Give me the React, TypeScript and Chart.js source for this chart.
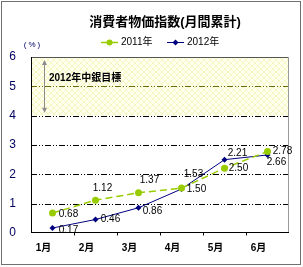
import React, { useEffect, useRef } from 'react';
import { Chart, registerables } from 'chart.js';

Chart.register(...registerables);

const categories = ['1月', '2月', '3月', '4月', '5月', '6月'];
const series2011 = [0.68, 1.12, 1.37, 1.53, 2.21, 2.78];
const series2012 = [0.17, 0.46, 0.86, 1.5, 2.5, 2.66];
const labels2011 = ['0.68', '1.12', '1.37', '1.53', '2.50', '2.78'];
const labels2012 = ['0.17', '0.46', '0.86', '1.50', '2.21', '2.66'];
const seriesNames = ['2011年', '2012年'];
const yMin = 0;
const yMax = 6;
const targetBand = [4, 6];
const targetLine = 5;
const titleText = '消費者物価指数(月間累計)';
const bandLabel = '2012年中銀目標';
const unitLabel = '(%)';

const FONT = "'Liberation Sans', 'Noto Sans CJK JP', sans-serif";
const GREEN = '#99CC00';
const NAVY = '#000080';

// label offsets (style only)
const off2011 = [[16, 1], [7, -12], [11, -13], [12, -14], [14, 0], [15, 0]];
const off2012 = [[16, 2], [15, 0], [14, 3], [15, 0], [13, -6], [9, 7]];

function makePattern(): CanvasPattern | string {
  const c = document.createElement('canvas');
  c.width = 6;
  c.height = 6;
  const g = c.getContext('2d');
  if (!g) return '#FFFFE8';
  g.fillStyle = '#FFFFEE';
  g.fillRect(0, 0, 6, 6);
  g.strokeStyle = '#F6F6C4';
  g.lineWidth = 1;
  g.beginPath();
  g.moveTo(0, 0);
  g.lineTo(6, 6);
  g.moveTo(6, 0);
  g.lineTo(0, 6);
  g.stroke();
  const p = g.createPattern(c, 'repeat');
  return p || '#FFFFE8';
}

export default function App() {
  const ref = useRef<HTMLCanvasElement | null>(null);

  useEffect(() => {
    if (!ref.current) return;
    const pattern = makePattern();

    const decor = {
      id: 'decor',
      beforeDatasetsDraw(chart: any) {
        const { ctx, chartArea, scales } = chart;
        const { left, right, top, bottom } = chartArea;
        const y = scales.y;
        ctx.save();
        // band
        const yb = y.getPixelForValue(targetBand[0]);
        const yt = y.getPixelForValue(targetBand[1]);
        ctx.fillStyle = pattern;
        ctx.fillRect(left, yt, right - left, yb - yt);
        // grid lines
        ctx.lineWidth = 1;
        for (let v = 1; v <= 5; v++) {
          const py = Math.round(y.getPixelForValue(v)) + 0.5;
          ctx.strokeStyle = v === targetLine ? '#6B6B10' : '#000000';
          ctx.setLineDash([6, 2, 1, 2, 1, 2]);
          ctx.beginPath();
          ctx.moveTo(left, py);
          ctx.lineTo(right, py);
          ctx.stroke();
        }
        ctx.setLineDash([]);
        // top border
        ctx.strokeStyle = '#555555';
        ctx.beginPath();
        ctx.moveTo(left, Math.round(top) + 0.5);
        ctx.lineTo(right, Math.round(top) + 0.5);
        ctx.stroke();
        // right border
        ctx.strokeStyle = '#999999';
        ctx.beginPath();
        ctx.moveTo(Math.round(right) - 0.5, top);
        ctx.lineTo(Math.round(right) - 0.5, bottom);
        ctx.stroke();
        // left axis
        ctx.strokeStyle = '#000000';
        ctx.beginPath();
        ctx.moveTo(Math.round(left) + 0.5, top);
        ctx.lineTo(Math.round(left) + 0.5, bottom);
        ctx.stroke();
        // bottom axis with ticks at category boundaries
        const by = Math.round(bottom) - 0.5;
        ctx.beginPath();
        ctx.moveTo(left, by);
        ctx.lineTo(right, by);
        const step = (right - left) / categories.length;
        for (let i = 1; i < categories.length; i++) {
          const px = Math.round(left + step * i) + 0.5;
          ctx.moveTo(px, by);
          ctx.lineTo(px, by + 3);
        }
        ctx.stroke();
        // double arrow
        const ax = left + 13.5;
        const a1 = yt + 3;
        const a2 = yb - 3;
        ctx.strokeStyle = '#8C8C8C';
        ctx.fillStyle = '#8C8C8C';
        ctx.lineWidth = 1;
        ctx.beginPath();
        ctx.moveTo(ax, a1 + 3);
        ctx.lineTo(ax, a2 - 3);
        ctx.stroke();
        ctx.beginPath();
        ctx.moveTo(ax, a1);
        ctx.lineTo(ax - 2.5, a1 + 5);
        ctx.lineTo(ax + 2.5, a1 + 5);
        ctx.closePath();
        ctx.fill();
        ctx.beginPath();
        ctx.moveTo(ax, a2);
        ctx.lineTo(ax - 2.5, a2 - 5);
        ctx.lineTo(ax + 2.5, a2 - 5);
        ctx.closePath();
        ctx.fill();
        // band label
        ctx.fillStyle = '#000000';
        ctx.font = `bold 10px ${FONT}`;
        ctx.textAlign = 'left';
        ctx.textBaseline = 'middle';
        ctx.fillText(bandLabel, left + 18, y.getPixelForValue(5.3) + 0.5);
        ctx.restore();
      },
      afterDatasetsDraw(chart: any) {
        const { ctx } = chart;
        ctx.save();
        ctx.font = `10px ${FONT}`;
        ctx.fillStyle = '#000000';
        ctx.textAlign = 'center';
        ctx.textBaseline = 'middle';
        const m0 = chart.getDatasetMeta(0);
        const m1 = chart.getDatasetMeta(1);
        labels2011.forEach((t, i) => {
          const p = m0.data[i];
          ctx.fillText(t, p.x + off2011[i][0], p.y + off2011[i][1]);
        });
        labels2012.forEach((t, i) => {
          const p = m1.data[i];
          ctx.fillText(t, p.x + off2012[i][0], p.y + off2012[i][1]);
        });
        ctx.restore();
      },
      afterDraw(chart: any) {
        const { ctx } = chart;
        ctx.save();
        // title
        ctx.fillStyle = '#000000';
        ctx.font = `bold 13px ${FONT}`;
        ctx.textAlign = 'center';
        ctx.textBaseline = 'middle';
        ctx.fillText(titleText, 165, 22);
        // legend
        const ly = 42.5;
        ctx.font = `10px ${FONT}`;
        ctx.textAlign = 'left';
        // 2011
        ctx.strokeStyle = GREEN;
        ctx.lineWidth = 1.5;
        ctx.beginPath();
        ctx.moveTo(101, ly);
        ctx.lineTo(118, ly);
        ctx.stroke();
        ctx.fillStyle = GREEN;
        ctx.beginPath();
        ctx.arc(109.5, ly, 3, 0, Math.PI * 2);
        ctx.fill();
        ctx.fillStyle = '#000000';
        ctx.fillText(seriesNames[0], 121, ly);
        // 2012
        ctx.strokeStyle = NAVY;
        ctx.lineWidth = 1;
        ctx.beginPath();
        ctx.moveTo(167, ly);
        ctx.lineTo(184, ly);
        ctx.stroke();
        ctx.fillStyle = NAVY;
        ctx.beginPath();
        ctx.moveTo(175.5, ly - 3);
        ctx.lineTo(178.5, ly);
        ctx.lineTo(175.5, ly + 3);
        ctx.lineTo(172.5, ly);
        ctx.closePath();
        ctx.fill();
        ctx.fillStyle = '#000000';
        ctx.fillText(seriesNames[1], 187, ly);
        // unit label
        ctx.fillStyle = '#000060';
        ctx.font = `8px ${FONT}`;
        ctx.textAlign = 'center';
        (ctx as any).letterSpacing = '2px';
        ctx.fillText(unitLabel, 33, 45);
        (ctx as any).letterSpacing = '0px';
        // outer border
        ctx.strokeStyle = '#707070';
        ctx.lineWidth = 1;
        ctx.strokeRect(1.5, 1.5, 299, 263);
        ctx.restore();
      },
    };

    const chart = new Chart(ref.current, {
      type: 'line',
      data: {
        labels: categories,
        datasets: [
          {
            label: seriesNames[0],
            data: series2011,
            borderColor: GREEN,
            backgroundColor: GREEN,
            borderWidth: 1.5,
            borderDash: [7, 4],
            pointStyle: 'circle',
            pointRadius: 3.5,
            pointBorderWidth: 0,
            fill: false,
            tension: 0,
          },
          {
            label: seriesNames[1],
            data: series2012,
            borderColor: NAVY,
            backgroundColor: NAVY,
            borderWidth: 1,
            pointStyle: 'rectRot',
            pointRadius: 3,
            pointBorderWidth: 0,
            fill: false,
            tension: 0,
          },
        ],
      },
      options: {
        responsive: false,
        animation: false,
        devicePixelRatio: 1,
        layout: { padding: { left: 0, right: 14, top: 57, bottom: 0 } },
        plugins: {
          legend: { display: false },
          title: { display: false },
          tooltip: { enabled: false },
        },
        scales: {
          x: {
            type: 'category',
            offset: true,
            grid: { display: false, drawTicks: false },
            border: { display: false },
            ticks: {
              color: '#000000',
              font: { family: FONT, size: 10, weight: 'bold' },
              padding: 9,
              labelOffset: -9,
              maxRotation: 0,
              autoSkip: false,
            },
            afterFit: (s: any) => {
              s.height = 34;
            },
          },
          y: {
            min: yMin,
            max: yMax,
            grid: { display: false, drawTicks: false },
            border: { display: false },
            ticks: {
              stepSize: 1,
              color: '#000060',
              font: { family: FONT, size: 12 },
              padding: 15,
            },
            afterFit: (s: any) => {
              s.width = 31;
            },
          },
        },
      },
      plugins: [decor],
    });

    return () => chart.destroy();
  }, []);

  return (
    <div style={{ position: 'absolute', left: 0, top: 0, width: 303, height: 267, background: '#ffffff' }}>
      <canvas ref={ref} width={303} height={267} />
    </div>
  );
}
